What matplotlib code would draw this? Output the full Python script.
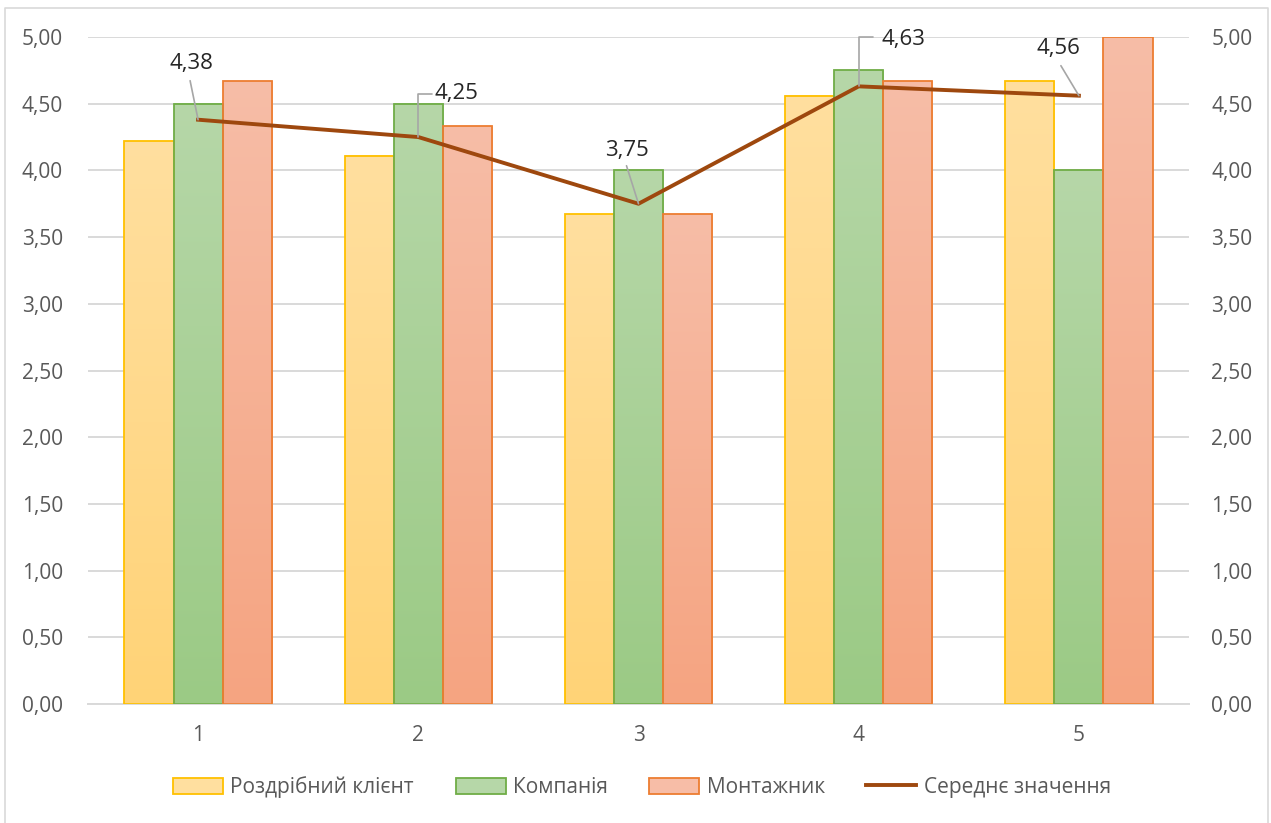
import numpy as np
import matplotlib
matplotlib.use("Agg")
import matplotlib.pyplot as plt
from matplotlib.colors import LinearSegmentedColormap
from matplotlib.lines import Line2D
from matplotlib.patches import Patch

plt.rcParams['font.family'] = ['Open Sans', 'DejaVu Sans']

categories = ['1', '2', '3', '4', '5']
retail = [4.22, 4.11, 3.67, 4.56, 4.67]
company = [4.50, 4.50, 4.00, 4.75, 4.00]
installer = [4.67, 4.33, 3.67, 4.67, 5.00]
average = [4.38, 4.25, 3.75, 4.63, 4.56]
y_ticks = [0, 0.5, 1, 1.5, 2, 2.5, 3, 3.5, 4, 4.5, 5]
series_names = ['Роздрібний клієнт', 'Компанія', 'Монтажник', 'Середнє значення']

# (edge colour, gradient top, gradient bottom)
styles = [
    ('#FFC000', '#FFDF9F', '#FFD377'),
    ('#70AD47', '#B6D7A8', '#9BCA85'),
    ('#ED7D31', '#F7BDA7', '#F5A481'),
]
line_color = '#9E480E'
grid_color = '#D9D9D9'
text_color = '#595959'

# label offsets in pixels: (text dx, dy, leader end dx, dy, elbow)
label_offsets = [
    (-7, 56, -8, 39, False),
    (38, 44, 14, 43, True),
    (-12, 53, -12, 38, False),
    (45, 47, 14, 49, True),
    (-20, 47, -18, 30, False),
]

fig = plt.figure(figsize=(12.71, 8.23), dpi=100)
ax = fig.add_axes([88 / 1271, 1 - 704 / 823, 1101 / 1271, 667 / 823])

x = np.arange(1, len(categories) + 1)
width = 0.223
grad = np.linspace(1, 0, 256).reshape(-1, 1)

for i, values in enumerate([retail, company, installer]):
    edge, top, bottom = styles[i]
    cmap = LinearSegmentedColormap.from_list('g%d' % i, [bottom, top])
    offs = (i - 1) * width
    for xi, v in zip(x, values):
        x0 = xi + offs - width / 2
        ax.imshow(grad, extent=[x0, x0 + width, 0, v], aspect='auto',
                  cmap=cmap, vmin=0, vmax=1, origin='upper', zorder=2)
        ax.add_patch(plt.Rectangle((x0, 0), width, v, fill=False,
                                   edgecolor=edge, linewidth=1.3, zorder=3))

ax.plot(x, average, color=line_color, linewidth=2.8, zorder=4,
        solid_joinstyle='round')

for xi, v, (tdx, tdy, ldx, ldy, elbow) in zip(x, average, label_offsets):
    ax.annotate(f'{v:.2f}'.replace('.', ','), xy=(xi, v), xytext=(tdx, tdy),
                textcoords='offset pixels', ha='center', va='center',
                fontsize=16, color='#262626', zorder=6)
    cs = 'angle,angleA=0,angleB=90,rad=0' if elbow else 'arc3'
    ax.annotate('', xy=(xi, v), xytext=(ldx, ldy), textcoords='offset pixels',
                arrowprops=dict(arrowstyle='-', color='#A6A6A6', lw=1.2,
                                shrinkA=0, shrinkB=0, connectionstyle=cs),
                zorder=5)

ax.set_xlim(0.5, 5.5)
ax.set_ylim(0, 5)
ax.set_xticks(x)
ax.set_xticklabels(categories)
ax.set_yticks(y_ticks)
ax.set_yticklabels([f'{t:.2f}'.replace('.', ',') for t in y_ticks])
ax.yaxis.grid(True, color=grid_color, linewidth=1.4, zorder=0)
ax.set_axisbelow(True)
for s in ['top', 'right', 'left']:
    ax.spines[s].set_visible(False)
ax.spines['bottom'].set_color(grid_color)
ax.spines['bottom'].set_linewidth(1.4)
ax.tick_params(axis='both', length=0, labelsize=15, labelcolor=text_color)
ax.tick_params(axis='y', pad=18)
ax.tick_params(axis='x', pad=15)

ax2 = ax.twinx()
ax2.set_ylim(0, 5)
ax2.set_yticks(y_ticks)
ax2.set_yticklabels([f'{t:.2f}'.replace('.', ',') for t in y_ticks])
for s in ax2.spines.values():
    s.set_visible(False)
ax2.tick_params(axis='y', length=0, labelsize=15, labelcolor=text_color, pad=16)

handles = [Patch(facecolor=styles[i][1], edgecolor=styles[i][0], linewidth=1.3)
           for i in range(3)]
handles.append(Line2D([0], [0], color=line_color, linewidth=2.8))
leg = fig.legend(handles, series_names, loc='center', ncol=4,
                 bbox_to_anchor=(642 / 1271, 1 - 787 / 823), frameon=False,
                 fontsize=15, handlelength=2.4, handleheight=0.8,
                 handletextpad=0.35, columnspacing=2.0)
for t in leg.get_texts():
    t.set_color(text_color)

# chart border
fig.add_artist(Line2D([5 / 1271, 5 / 1271, 1268 / 1271, 1268 / 1271],
                      [0, 1 - 8 / 823, 1 - 8 / 823, 0],
                      transform=fig.transFigure, color=grid_color, linewidth=1.2))

fig.savefig('out.png', dpi=100)
